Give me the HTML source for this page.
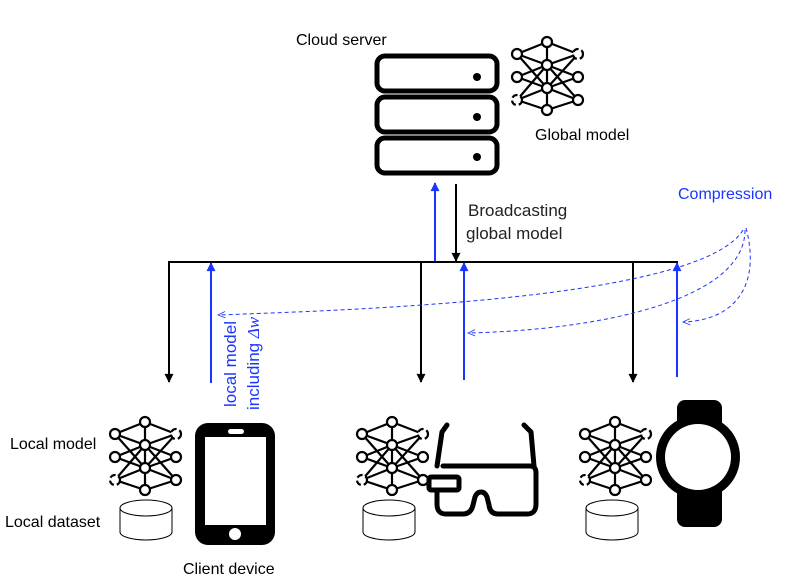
<!DOCTYPE html>
<html><head><meta charset="utf-8"><style>
body{margin:0;background:#fff}
svg{display:block}
text{font-family:"Liberation Sans",sans-serif}
</style></head><body>
<svg width="795" height="583" viewBox="0 0 795 583" xmlns="http://www.w3.org/2000/svg">
<defs>
<marker id="ab" viewBox="0 0 10 10" refX="9" refY="5" markerWidth="11" markerHeight="9" orient="auto-start-reverse" markerUnits="userSpaceOnUse"><path d="M0,0 L10,5 L0,10 z" fill="#000"/></marker>
<marker id="au" viewBox="0 0 10 10" refX="9" refY="5" markerWidth="11" markerHeight="9" orient="auto-start-reverse" markerUnits="userSpaceOnUse"><path d="M0,0 L10,5 L0,10 z" fill="#1a35ff"/></marker>
<marker id="ao" viewBox="0 0 10 10" refX="9" refY="5" markerWidth="8" markerHeight="8" orient="auto" markerUnits="userSpaceOnUse"><path d="M0,1 L9,5 L0,9" fill="none" stroke="#1a35ff" stroke-width="1"/></marker>
<g id="nn" stroke="#000" stroke-width="2.2" fill="#fff">
<path d="M0,5 L-30,17 M0,5 L31,17 M0,5 L0,28 M-30,17 L0,28 M31,17 L0,28 M-30,17 L0,51 M31,17 L0,51 M-30,40 L0,28 M-30,40 L0,51 M31,40 L0,28 M31,40 L0,51 M-30,63 L0,51 M31,63 L0,51 M-30,63 L0,28 M31,63 L0,28 M-30,63 L0,73 M31,63 L0,73 M0,51 L0,73 M0,5 L0,51" fill="none"/>
<circle cx="0" cy="5" r="5"/><circle cx="-30" cy="17" r="5"/><circle cx="31" cy="17" r="5" stroke-dasharray="6 3"/>
<circle cx="0" cy="28" r="5"/><circle cx="-30" cy="40" r="5"/><circle cx="31" cy="40" r="5"/>
<circle cx="0" cy="51" r="5"/><circle cx="-30" cy="63" r="5" stroke-dasharray="6 3"/><circle cx="31" cy="63" r="5"/>
<circle cx="0" cy="73" r="5"/>
</g>
<g id="cyl" stroke="#000" stroke-width="1" fill="#fff">
<path d="M-26,8 L-26,32 A26,8 0 0 0 26,32 L26,8"/>
<ellipse cx="0" cy="8" rx="26" ry="8"/>
</g>
</defs>

<g fill="#fff" stroke="#000" stroke-width="5">
<rect x="377" y="56" width="120" height="35" rx="8"/>
<rect x="377" y="97" width="120" height="35" rx="8"/>
<rect x="377" y="138" width="120" height="35" rx="8"/>
</g>
<circle cx="477" cy="77" r="4"/><circle cx="477" cy="117" r="4"/><circle cx="477" cy="157" r="4"/>
<use href="#nn" x="547" y="37"/>
<text x="296" y="45" font-size="16">Cloud server</text>
<text x="535" y="140" font-size="16">Global model</text>

<line x1="435" y1="262" x2="435" y2="183" stroke="#1a35ff" stroke-width="2" marker-end="url(#au)"/>
<line x1="456" y1="184" x2="456" y2="261" stroke="#000" stroke-width="2" marker-end="url(#ab)"/>
<text x="468" y="216" font-size="17" fill="#222">Broadcasting</text>
<text x="466" y="239" font-size="17" fill="#222">global model</text>

<line x1="168" y1="262" x2="678" y2="262" stroke="#000" stroke-width="2"/>
<g stroke="#000" stroke-width="2">
<line x1="169" y1="262" x2="169" y2="382" marker-end="url(#ab)"/>
<line x1="421" y1="262" x2="421" y2="382" marker-end="url(#ab)"/>
<line x1="633" y1="262" x2="633" y2="382" marker-end="url(#ab)"/>
</g>
<g stroke="#1a35ff" stroke-width="2">
<line x1="211" y1="383" x2="211" y2="263" marker-end="url(#au)"/>
<line x1="464" y1="380" x2="464" y2="263" marker-end="url(#au)"/>
<line x1="677" y1="377" x2="677" y2="263" marker-end="url(#au)"/>
</g>
<text x="678" y="199" font-size="16" fill="#1a35ff">Compression</text>
<g fill="none" stroke="#1a35ff" stroke-width="1" stroke-dasharray="4 3">
<path d="M743,230 C700,300 350,310 218,315" marker-end="url(#ao)"/>
<path d="M745,230 C745,300 600,330 468,333" marker-end="url(#ao)"/>
<path d="M746,228 C760,280 740,320 683,322" marker-end="url(#ao)"/>
</g>
<text transform="translate(236,407) rotate(-90)" font-size="17" fill="#1a35ff">local model</text>
<text transform="translate(259,410) rotate(-90)" font-size="17" fill="#1a35ff">including <tspan font-style="italic" font-family="Liberation Serif">Δw</tspan></text>

<use href="#nn" x="145" y="417"/>
<use href="#cyl" x="146" y="500"/>
<rect x="195" y="423" width="80" height="122" rx="13" fill="#000"/>
<rect x="205" y="437" width="61" height="88" fill="#fff"/>
<rect x="228" y="429" width="16" height="5" rx="2.5" fill="#fff"/>
<circle cx="235" cy="534" r="6" fill="#fff"/>
<text x="10" y="449" font-size="16">Local model</text>
<text x="5" y="527" font-size="16">Local dataset</text>
<text x="183" y="574" font-size="16">Client device</text>

<use href="#nn" x="392" y="417"/>
<use href="#cyl" x="389" y="500"/>
<g fill="none" stroke="#000" stroke-width="5" stroke-linecap="round" stroke-linejoin="round">
<path d="M447,425 L442,432 L437,466"/>
<path d="M524,425 L531,432 L534,466"/>
<path d="M443,466 L530,466 Q536,466 536,473 L536,504 Q536,514 527,514 L498,514 Q490,514 489,505 L487,497 Q485,492 481,492 Q477,492 475,497 L473,505 Q471,514 463,514 L446,514 Q437,514 437,504 L437,490"/>
<rect x="429" y="477" width="30" height="13" rx="2"/>
</g>

<use href="#nn" x="615" y="417"/>
<use href="#cyl" x="612" y="500"/>
<rect x="677" y="400" width="45" height="127" rx="8" fill="#000"/>
<circle cx="698" cy="457" r="42" fill="#000"/>
<circle cx="698" cy="457" r="33" fill="#fff"/>
</svg>
</body></html>
